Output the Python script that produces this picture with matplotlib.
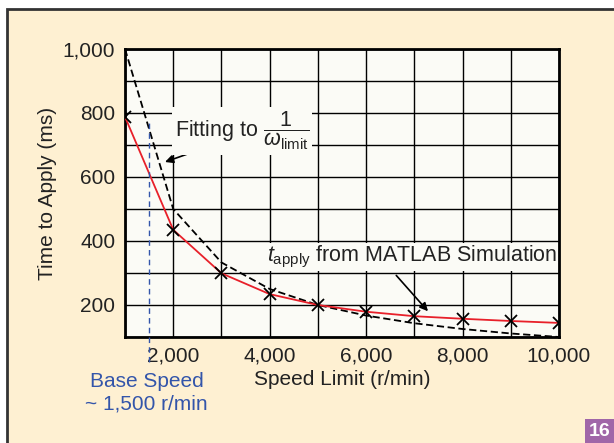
import numpy as np
import matplotlib
matplotlib.use("Agg")
import matplotlib.pyplot as plt
from matplotlib.patches import Rectangle

plt.rcParams['font.family'] = ['Liberation Sans', 'DejaVu Sans']
plt.rcParams['mathtext.fontset'] = 'custom'
plt.rcParams['mathtext.rm'] = 'Liberation Sans'
plt.rcParams['mathtext.it'] = 'Liberation Sans:italic'

speed = [1000, 2000, 3000, 4000, 5000, 6000, 7000, 8000, 9000, 10000]
t_apply = [788, 435, 299, 234, 200, 179, 165, 157, 150, 144]
t_fit = [1000, 500, 333, 250, 200, 167, 143, 125, 111, 100]
base_speed = 1500

page = '#FEF0D2'
face = '#FBFBF6'

fig = plt.figure(figsize=(6.14, 4.43), dpi=100)
fig.patch.set_facecolor('white')
fig.patches.append(Rectangle((7 / 614, -0.01), 1.0, (443 - 9) / 443 + 0.01,
                             transform=fig.transFigure, facecolor=page,
                             edgecolor='#333333', linewidth=2, zorder=-10))
fig.patches.append(Rectangle((585 / 614, 0), 29 / 614, 24 / 443,
                             transform=fig.transFigure, facecolor='#A066A8',
                             edgecolor='none', zorder=-5))
fig.text(599.5 / 614, 11 / 443, '16', color='white', fontsize=14,
         fontweight='bold', ha='center', va='center')

ax = fig.add_axes([125 / 614, (443 - 337) / 443, 434 / 614, 288 / 443])
ax.set_facecolor(face)

ax.plot(speed, t_fit, color='black', linestyle=(0, (4, 2)), linewidth=1.3, zorder=3)
ax.plot(speed, t_apply, color='#E8202A', linewidth=1.3, zorder=4)
ax.plot(speed, t_apply, linestyle='none', marker='x', color='black',
        markersize=8, markeredgewidth=1.3, zorder=5)

ax.plot([base_speed, base_speed], [22, 770], color='#3355AA',
        linestyle=(0, (4, 3)), linewidth=1, clip_on=False, zorder=6)

ax.set_xlim(1000, 10000)
ax.set_ylim(100, 1000)
ax.set_xticks([2000, 4000, 6000, 8000, 10000])
ax.set_xticklabels(['2,000', '4,000', '6,000', '8,000', '10,000'])
ax.set_xticks(np.arange(1000, 10001, 1000), minor=True)
ax.set_yticks([200, 400, 600, 800, 1000])
ax.set_yticklabels(['200', '400', '600', '800', '1,000'])
ax.set_yticks(np.arange(100, 1001, 100), minor=True)
ax.grid(True, which='both', color='black', linewidth=1)
ax.set_axisbelow(True)
ax.tick_params(which='both', length=0, labelsize=15, colors='#222222', pad=7)
for s in ax.spines.values():
    s.set_linewidth(2)

ax.set_xlabel('Speed Limit (r/min)', fontsize=15, color='#222222', labelpad=3)
ax.set_ylabel('Time to Apply (ms)', fontsize=15, color='#222222', labelpad=4)

ax.annotate('', xy=(1775, 644), xytext=(2712, 694),
            arrowprops=dict(arrowstyle='-|>', color='black', lw=1.2,
                            mutation_scale=12), zorder=7)
ax.text(3431, 745, r'Fitting to $\dfrac{1}{\omega_{\rm limit}}$', fontsize=15.5,
        ha='center', va='center', color='#222222', zorder=8,
        bbox=dict(facecolor=face, edgecolor='none', pad=2))

ax.annotate('', xy=(7321, 174), xytext=(6587, 299),
            arrowprops=dict(arrowstyle='-|>', color='black', lw=1.2,
                            mutation_scale=12), zorder=7)
ax.text(6950, 350, r'$t_{\rm apply}$ from MATLAB Simulation', fontsize=15.5,
        ha='center', va='center', color='#222222', zorder=8,
        bbox=dict(facecolor=face, edgecolor='none', pad=1))

ax.text(1450, -0.193, 'Base Speed\n~ 1,500 r/min', transform=ax.get_xaxis_transform(),
        fontsize=15, color='#3355AA', ha='center', va='center', linespacing=1.25)

fig.savefig('out.png', dpi=100, facecolor=fig.get_facecolor())
